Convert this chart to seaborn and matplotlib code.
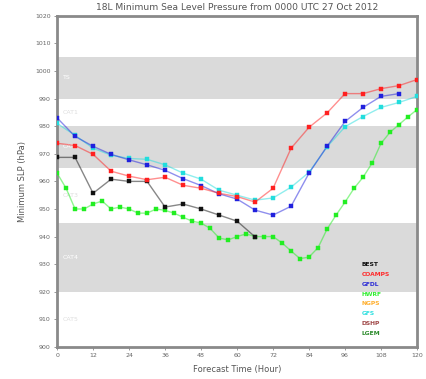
import numpy as np
import pandas as pd
import matplotlib
matplotlib.use("Agg")
import matplotlib.pyplot as plt
import seaborn as sns

sns.set_theme(style="white")
plt.rcParams["font.family"] = ["DejaVu Sans"]

# forecast hours
hours_6h = list(range(0, 121, 6))
hours_3h = list(range(0, 121, 3))

best = [968.7, 968.7, 955.7, 960.8, 960.0, 960.0, 950.7, 951.8, 950.0, 947.8, 945.6, 939.9]
coamps = [973.8, 973.0, 969.8, 963.7, 961.9, 960.6, 961.5, 958.6, 957.5, 955.7, 954.5,
          952.5, 957.5, 972.0, 979.6, 984.8, 991.8, 991.8, 993.6, 994.7, 996.9]
gfdl = [983.0, 976.3, 972.7, 969.8, 967.8, 966.0, 964.0, 961.0, 958.5, 955.5, 953.6,
        949.6, 947.8, 951.0, 963.0, 972.7, 981.7, 986.8, 990.8, 991.8]
gfs = [981.0, 976.7, 972.0, 969.5, 968.3, 968.0, 966.0, 963.0, 960.8, 956.8, 955.0,
       953.2, 954.0, 957.9, 963.3, 972.5, 979.8, 983.5, 986.8, 988.6, 990.8]
hwrf = [963.0, 957.5, 950.0, 950.0, 951.8, 952.9, 950.0, 950.7, 950.0, 948.5, 948.5,
        950.0, 949.5, 948.5, 947.0, 945.6, 944.9, 943.0, 939.5, 938.8, 940.0, 941.0,
        940.0, 940.0, 940.0, 937.7, 934.8, 932.0, 932.6, 936.0, 942.7, 947.8, 952.5,
        957.5, 961.5, 966.6, 973.8, 977.8, 980.6, 983.4, 986.0]

legend_names = ["BEST", "COAMPS", "GFDL", "HWRF", "NGPS", "GFS", "DSHP", "LGEM"]
legend_colors = ["#111111", "#ff2a2a", "#2b2bd6", "#33ee33", "#ffb030", "#30e0e0", "#a04848", "#2a8a2a"]

# intensity bands (hPa) and labels
band_edges = [(1005, 990), (980, 965), (945, 920)]
band_labels = ["TS", "CAT1", "CAT2", "CAT3", "CAT4", "CAT5"]
band_label_p = [997.5, 985, 972.5, 955, 932.5, 910]

fig = plt.figure(figsize=(4.26, 3.79), dpi=100)
ax = fig.add_axes([0.134, 0.0844, 0.845, 0.874])

for top, bot in band_edges:
    ax.axhspan(bot, top, color="#dadada", lw=0, zorder=0)
for lab, p in zip(band_labels, band_label_p):
    in_gray = any(bot <= p <= top for top, bot in band_edges)
    ax.text(2, p, lab, fontsize=4.5, color="white" if in_gray else "#dddddd",
            va="center", ha="left", zorder=1)

series = [
    ("HWRF", hours_3h, hwrf, "#22ee22"),
    ("BEST", hours_6h[:len(best)], best, "#111111"),
    ("GFS", hours_6h, gfs, "#22dddd"),
    ("GFDL", hours_6h[:len(gfdl)], gfdl, "#2020dd"),
    ("COAMPS", hours_6h, coamps, "#ff2020"),
]
for name, x, y, c in series:
    df = pd.DataFrame({"hour": x, "slp": y})
    sns.lineplot(data=df, x="hour", y="slp", color=c, alpha=0.5, lw=1.0, ax=ax, zorder=3)
    sns.scatterplot(data=df, x="hour", y="slp", color=c, marker="s", s=12,
                    edgecolor=c, linewidth=0.3, ax=ax, zorder=4)

ax.set_xlim(0, 120)
ax.set_ylim(900, 1020)
ax.set_xticks(range(0, 121, 12))
ax.set_yticks(range(900, 1021, 10))
ax.tick_params(axis="both", labelsize=4.5, colors="#888888", length=2.5, width=0.6,
               direction="out", bottom=True, left=True, pad=2)
for lbl in ax.get_xticklabels() + ax.get_yticklabels():
    lbl.set_color("#666666")
for s in ax.spines.values():
    s.set_color("#8a8a8a")
    s.set_linewidth(2)

ax.set_xlabel("Forecast Time (Hour)", fontsize=6, color="#555555", labelpad=5)
ax.set_ylabel("Minimum SLP (hPa)", fontsize=6, color="#555555", labelpad=6)
ax.set_title("18L Minimum Sea Level Pressure from 0000 UTC 27 Oct 2012",
             fontsize=6.6, color="#555555", pad=4)

for i, (n, c) in enumerate(zip(legend_names, legend_colors)):
    ax.text(0.845, 0.25 - i * 0.030, n, transform=ax.transAxes, fontsize=4.3,
            color=c, fontweight="bold", ha="left", va="center", zorder=5)

fig.savefig("out.png", dpi=100)
